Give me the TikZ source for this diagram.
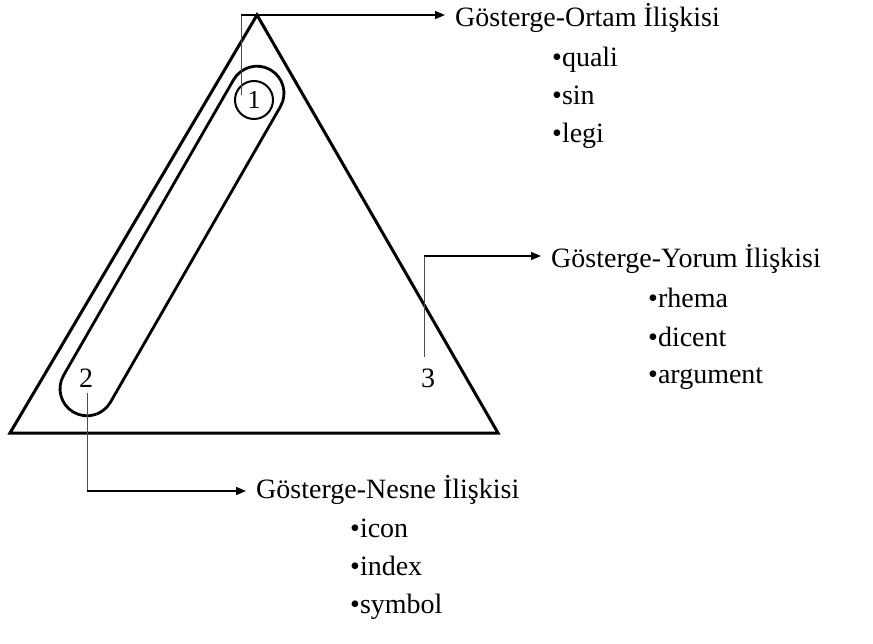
\documentclass[tikz,border=0pt]{standalone}
\usepackage{fontspec}
\setmainfont{Liberation Serif}
\usetikzlibrary{positioning,arrows.meta,shapes.misc}

\begin{document}
\begin{tikzpicture}[
    x=1pt, y=-1pt,
    edge/.style={line width=3pt, line join=miter},
    heading/.style={
        anchor=base west,
        inner xsep=10pt,
        inner ysep=0pt,
        font=\fontsize{28}{30}\selectfont
    },
    item/.style={
        anchor=base west,
        inner sep=0pt,
        font=\fontsize{28}{30}\selectfont
    },
    num/.style={anchor=base, inner sep=0pt, font=\fontsize{28}{30}\selectfont},
    lead/.style={line width=0.6pt, draw=black!70},
    arrow/.style={line width=1.5pt, -{Triangle[length=10pt,width=8pt]}}
]
\useasboundingbox (0,0) rectangle (873,644);

% triangle
\coordinate (apex) at (257,15);
\coordinate (left) at (10,433);
\coordinate (right) at (498,433);
\draw[edge] (left) -- (apex) -- (right) -- cycle;

% capsule, circle and corner numbers
\node[draw, line width=2.8pt, rounded rectangle, minimum width=395pt, minimum height=54pt,
      inner sep=0pt, rotate=60.1] (capsule) at (172,241) {};
\node[draw, circle, line width=2pt, minimum size=38pt, inner sep=0pt,
      font=\fontsize{26}{28}\selectfont] (one) at (254,100) {1};
\node[num] (two) at (86,388) {2};
\node[num] (three) at (428,387) {3};

% headings
\node[heading] (ortam) at (445,27) {Gösterge-Ortam İlişkisi};
\node[heading] (yorum) at (541,268) {Gösterge-Yorum İlişkisi};
\node[heading] (nesne) at (246,498) {Gösterge-Nesne İlişkisi};

% items
\node[item] (quali) at (552,67) {•quali};
\node[item] (sin) at (552,105) {•sin};
\node[item] (legi) at (552,143) {•legi};

\node[item] (rhema) at (648,308) {•rhema};
\node[item] (dicent) at (648,346) {•dicent};
\node[item] (argument) at (648,384) {•argument};

\node[item] (icon) at (350,537) {•icon};
\node[item] (index) at (350,575) {•index};
\node[item] (symbol) at (350,613) {•symbol};

% leaders
\coordinate (p1) at (241,95);
\coordinate (k1) at (241,15);
\coordinate (p3) at (424,357);
\coordinate (k3) at (424,256);
\coordinate (p2) at (87,393);
\coordinate (k2) at (87,491);

\draw[lead] (p1) -- (k1);
\draw[arrow] (k1) -- (k1 -| ortam.west);
\draw[lead] (p3) -- (k3);
\draw[arrow] (k3) -- (k3 -| yorum.west);
\draw[lead] (p2) -- (k2);
\draw[arrow] (k2) -- (k2 -| nesne.west);

\end{tikzpicture}
\end{document}
